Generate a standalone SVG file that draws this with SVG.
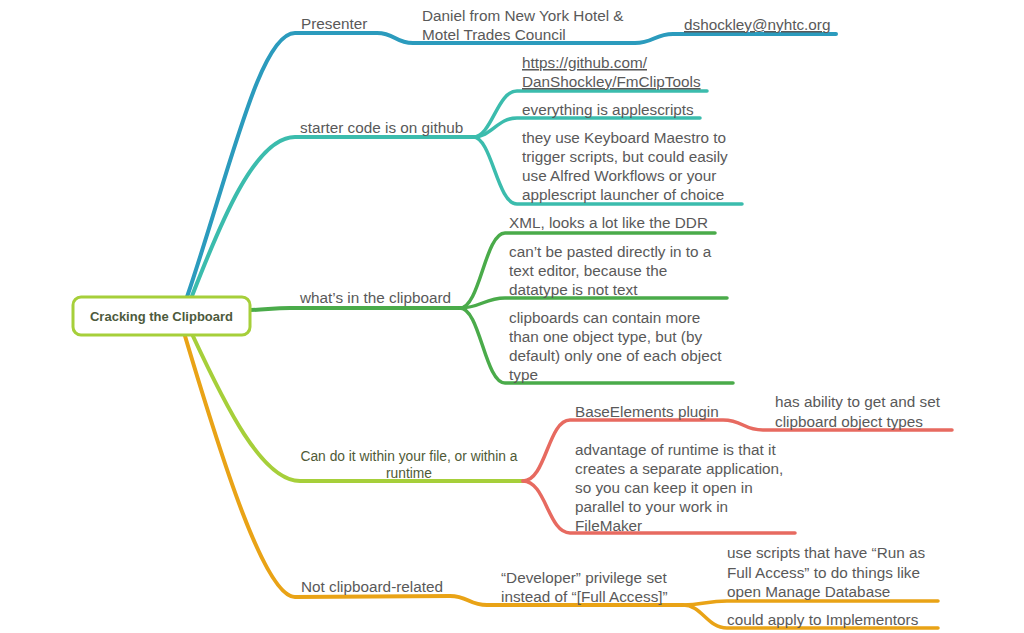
<svg xmlns="http://www.w3.org/2000/svg" width="1024" height="633" viewBox="0 0 1024 633">
<style>
.t{font-family:"Liberation Sans",Arial,sans-serif;font-size:15.3px;fill:#595959}
.u{text-decoration:underline}
.root{font-family:"Liberation Sans",Arial,sans-serif;font-size:13px;font-weight:bold;fill:#4d5a3c}
.lime{font-family:"Liberation Sans",Arial,sans-serif;font-size:13.8px;fill:#4f5a36}
.c{fill:none;stroke-linecap:round}
.b{stroke:#2b9bbd;stroke-width:4}
.te{stroke:#3bbcad;stroke-width:4}
.g{stroke:#4aab4a;stroke-width:4}
.l{stroke:#a6cf3a;stroke-width:4}
.r{stroke:#e76a60;stroke-width:4}
.o{stroke:#e9a316;stroke-width:4}
.s{stroke-width:3.5}
</style>
<rect width="1024" height="633" fill="#ffffff"/>
<g id="connectors">
<path class="c b" d="M187,297 C230,170 260,33 295,33 L377,33 C395,33 395,43 413,43 L635,43 C653,43 655,34 673,34 L836,34"/>
<path class="c te" d="M192,296 C220,224 255,137 295,137 L473,137"/>
<path class="c te s" d="M473,137 C492,137 497,91 517,91 L707,91"/>
<path class="c te s" d="M473,137 C492,137 497,118 517,118 L700,118"/>
<path class="c te s" d="M473,137 C492,137 497,204 517,204 L742,204"/>
<path class="c g" d="M250,310 C265,310 272,308 290,308 L460,308"/>
<path class="c g s" d="M460,308 C480,308 485,233 505,233 L715,233"/>
<path class="c g s" d="M460,308 C480,308 485,298 505,298 L727,298"/>
<path class="c g s" d="M460,308 C480,308 485,383 505,383 L733,383"/>
<path class="c l" d="M192,334 C225,405 262,481 300,481 L523,481"/>
<path class="c r s" d="M523,481 C546,481 548,420 570,420 L723,420 C743,420 743,430 763,430 L952,430"/>
<path class="c r s" d="M523,481 C546,481 548,533 570,533 L795,533"/>
<path class="c o" d="M185,336 C222,460 265,597 295,597 L450,596 C468,596 469,605 487,605 L683,605"/>
<path class="c o s" d="M683,605 C702,605 707,601 727,601 L938,601"/>
<path class="c o s" d="M683,605 C702,605 707,628 727,628 L938,628"/>
</g>
<g id="root">
<rect x="73" y="297" width="177" height="38" rx="8" fill="#ffffff" stroke="#a6cf3a" stroke-width="3"/>
<text class="root" x="161.5" y="321" text-anchor="middle">Cracking the Clipboard</text>
</g>
<g id="presenter"><text class="t" x="301" y="29">Presenter</text></g>
<g id="daniel"><text class="t" x="422" y="21">Daniel from New York Hotel &amp;</text><text class="t" x="422" y="40">Motel Trades Council</text></g>
<g id="email"><text class="t u" x="684" y="30">dshockley@nyhtc.org</text></g>
<g id="starter"><text class="t" x="300" y="133">starter code is on github</text></g>
<g id="github"><text class="t u" x="522" y="68">https://github.com/</text><text class="t u" x="522" y="87">DanShockley/FmClipTools</text></g>
<g id="applescripts"><text class="t" x="522" y="115">everything is applescripts</text></g>
<g id="keyboard"><text class="t" x="522" y="143">they use Keyboard Maestro to</text><text class="t" x="522" y="162">trigger scripts, but could easily</text><text class="t" x="522" y="181">use Alfred Workflows or your</text><text class="t" x="522" y="200">applescript launcher of choice</text></g>
<g id="whats"><text class="t" x="300" y="303">what’s in the clipboard</text></g>
<g id="xml"><text class="t" x="509" y="228">XML, looks a lot like the DDR</text></g>
<g id="pasted"><text class="t" x="509" y="257">can’t be pasted directly in to a</text><text class="t" x="509" y="276">text editor, because the</text><text class="t" x="509" y="295">datatype is not text</text></g>
<g id="clipboards"><text class="t" x="509" y="323">clipboards can contain more</text><text class="t" x="509" y="342">than one object type, but (by</text><text class="t" x="509" y="361">default) only one of each object</text><text class="t" x="509" y="380">type</text></g>
<g id="within"><text class="lime" x="409" y="461" text-anchor="middle">Can do it within your file, or within a</text><text class="lime" x="409" y="478" text-anchor="middle">runtime</text></g>
<g id="baseelements"><text class="t" x="575" y="417">BaseElements plugin</text></g>
<g id="ability"><text class="t" x="775" y="407">has ability to get and set</text><text class="t" x="775" y="427">clipboard object types</text></g>
<g id="advantage"><text class="t" x="575" y="455">advantage of runtime is that it</text><text class="t" x="575" y="474">creates a separate application,</text><text class="t" x="575" y="493">so you can keep it open in</text><text class="t" x="575" y="512">parallel to your work in</text><text class="t" x="575" y="531">FileMaker</text></g>
<g id="notclip"><text class="t" x="301" y="592">Not clipboard-related</text></g>
<g id="developer"><text class="t" x="501" y="583">“Developer” privilege set</text><text class="t" x="501" y="602">instead of “[Full Access]”</text></g>
<g id="runas"><text class="t" x="727" y="558">use scripts that have “Run as</text><text class="t" x="727" y="578">Full Access” to do things like</text><text class="t" x="727" y="597">open Manage Database</text></g>
<g id="implementors"><text class="t" x="727" y="625">could apply to Implementors</text></g>
</svg>
